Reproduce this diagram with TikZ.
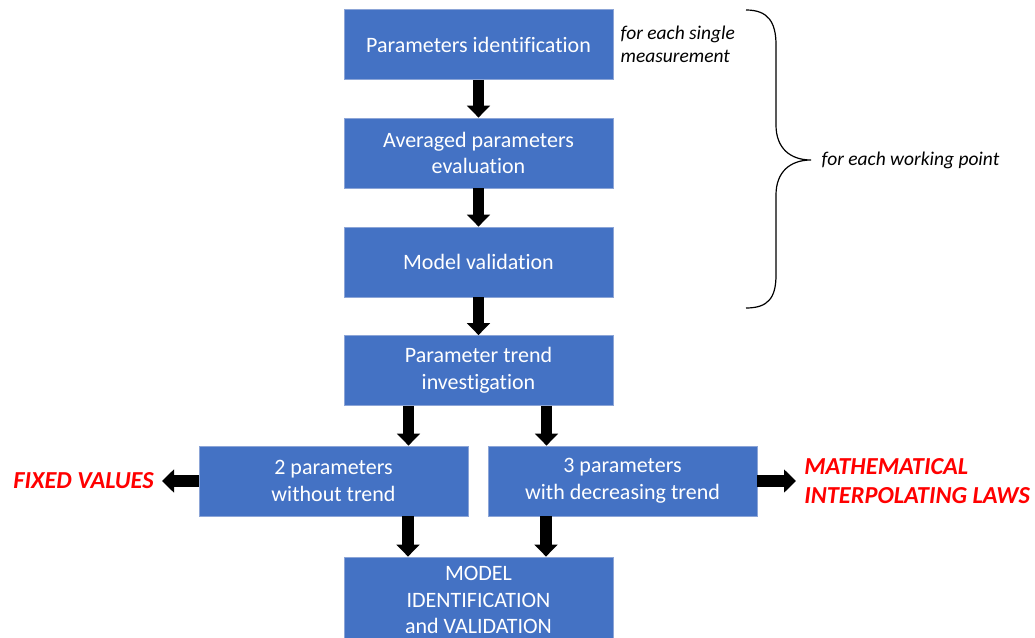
\documentclass[tikz,border=0pt]{standalone}
\usepackage{fontspec}
\setmainfont{Carlito}[Ligatures=NoCommon]
\usetikzlibrary{arrows.meta,calc}
\definecolor{boxblue}{RGB}{68,114,196}
\definecolor{boxedge}{RGB}{140,165,215}
\tikzset{
  stepbox/.style={draw=boxedge, line width=0.6pt, fill=boxblue, text=white,
    minimum width=201.75pt, minimum height=52.5pt, align=center,
    font=\fontsize{16.5}{20}\selectfont},
  blockarrow/.style={line width=8.5pt, -{Triangle[length=9pt,width=17pt]}},
  remark/.style={font=\fontsize{14.6}{17.3}\selectfont\itshape, align=left},
  outcome/.style={text=red, font=\fontsize{18.3}{22}\selectfont\bfseries\itshape, align=left}
}
\begin{document}
\begin{tikzpicture}[x=0.75pt,y=-0.75pt]
  \useasboundingbox (0,0) rectangle (1035,638);
  \draw
    (478.5,44.5) node[stepbox] (ident){Parameters identification}
    (478.5,153) node[stepbox] (avg){Averaged parameters\\evaluation}
    (478.5,262) node[stepbox] (valid){Model validation}
    (478.5,370.5) node[stepbox] (trend){Parameter trend\\investigation}
    (333.5,481) node[stepbox] (two){2 parameters\\without trend}
    (622.5,481) node[stepbox] (three){3 parameters\\with decreasing trend}
    (478.5,600) node[stepbox, minimum height=64.5pt] (model){MODEL\\IDENTIFICATION\\and VALIDATION};
  \draw
    (162,481) node[outcome, anchor=east, inner sep=6pt] (fixed){FIXED VALUES}
    (796,481) node[outcome, anchor=west, inner sep=6pt] (laws){MATHEMATICAL\\INTERPOLATING LAWS}
    (619,44) node[remark, anchor=west, inner sep=1pt] (single){for each single\\measurement}
    (820,160) node[remark, anchor=west, inner sep=1pt] (working){for each working point};
  % arrow feet under the trend box and the two parameter boxes
  \coordinate (tl) at ($(trend.south)+(-70,0)$);
  \coordinate (tr) at ($(trend.south)+(68,0)$);
  \coordinate (bl) at ($(two.south)+(74.5,0)$);
  \coordinate (br) at ($(three.south)+(-76.5,0)$);
  \begin{scope}[blockarrow]
    \draw (ident.south) to (avg.north);
    \draw (avg.south) to (valid.north);
    \draw (valid.south) to (trend.north);
    \draw (tl) to (tl |- two.north);
    \draw (tr) to (tr |- three.north);
    \draw (bl) to (bl |- model.north);
    \draw (br) to (br |- model.north);
    \draw (two.west) to (fixed.east);
    \draw (three.east) to (laws.west);
  \end{scope}
  % brace
  \coordinate (tip) at (811,160);
  \draw[line width=0.9pt]
    (746,10) .. controls (768,10) and (776,22) .. (776,45)
    -- (776,125) .. controls (776,148) and (790,160) .. (tip)
    .. controls (790,160) and (776,172) .. (776,195)
    -- (776,275) .. controls (776,298) and (768,308) .. (746,308);
\end{tikzpicture}
\end{document}
